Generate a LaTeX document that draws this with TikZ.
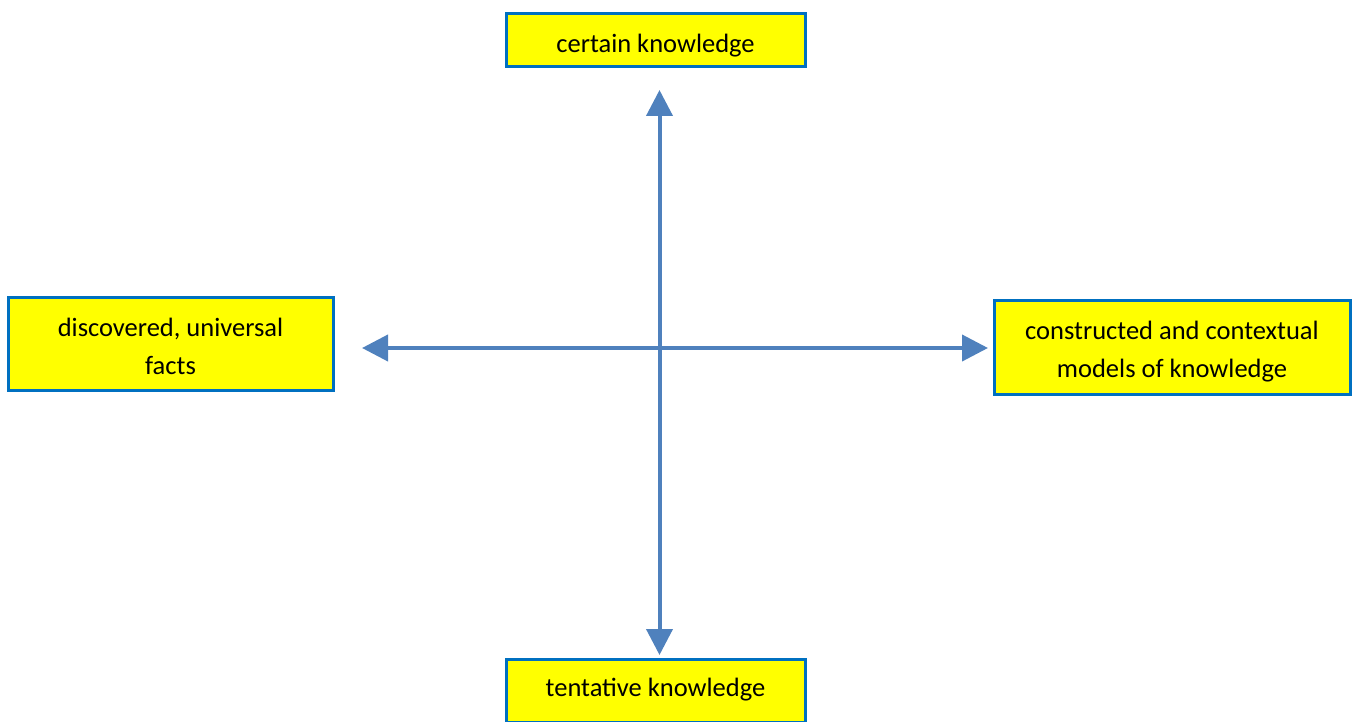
\documentclass[tikz,border=0pt]{standalone}
\usepackage{fontspec}
\setmainfont{Carlito}
\usetikzlibrary{arrows.meta}
\definecolor{boxfill}{HTML}{FFFF00}
\definecolor{boxline}{HTML}{0070C0}
\definecolor{axis}{HTML}{4F81BD}
\begin{document}
\begin{tikzpicture}[x=1pt,y=-1pt,
  label box/.style={draw=boxline, fill=boxfill, line width=3pt, inner sep=0pt},
  box text/.style={align=center, inner sep=0pt, font=\fontsize{26.5}{38}\selectfont},
  axis arrow/.style={draw=axis, line width=4pt,
    {Triangle[width=26pt,length=26pt]}-{Triangle[width=26pt,length=26pt]}}]
  \useasboundingbox (0,0) rectangle (1355,722);
  \begin{scope}
    \clip (0,0) rectangle (1355,722);
    \node[label box, minimum width=299pt, minimum height=53pt,
      label={[box text, yshift=-5pt]center:certain knowledge}] (certain) at (655.5,40.5) {};
    \node[label box, minimum width=325pt, minimum height=93pt,
      label={[box text, yshift=-2.5pt]center:discovered, universal\\facts}] (facts) at (170.5,343.5) {};
    \node[label box, minimum width=356pt, minimum height=94pt,
      label={[box text, yshift=-5pt]center:constructed and contextual\\models of knowledge}] (models) at (1172,347) {};
    \node[label box, minimum width=299pt, minimum height=63pt,
      label={[box text, yshift=1pt]center:tentative knowledge}] (tentative) at (655.5,690.5) {};
  \end{scope}
  \coordinate (top) at (659.5,90);
  \coordinate (bottom) at (659.5,655);
  \coordinate (left) at (362,348);
  \coordinate (right) at (988,348);
  \draw[axis arrow] (left) -- (right);
  \draw[axis arrow] (bottom) -- (top);
\end{tikzpicture}
\end{document}
